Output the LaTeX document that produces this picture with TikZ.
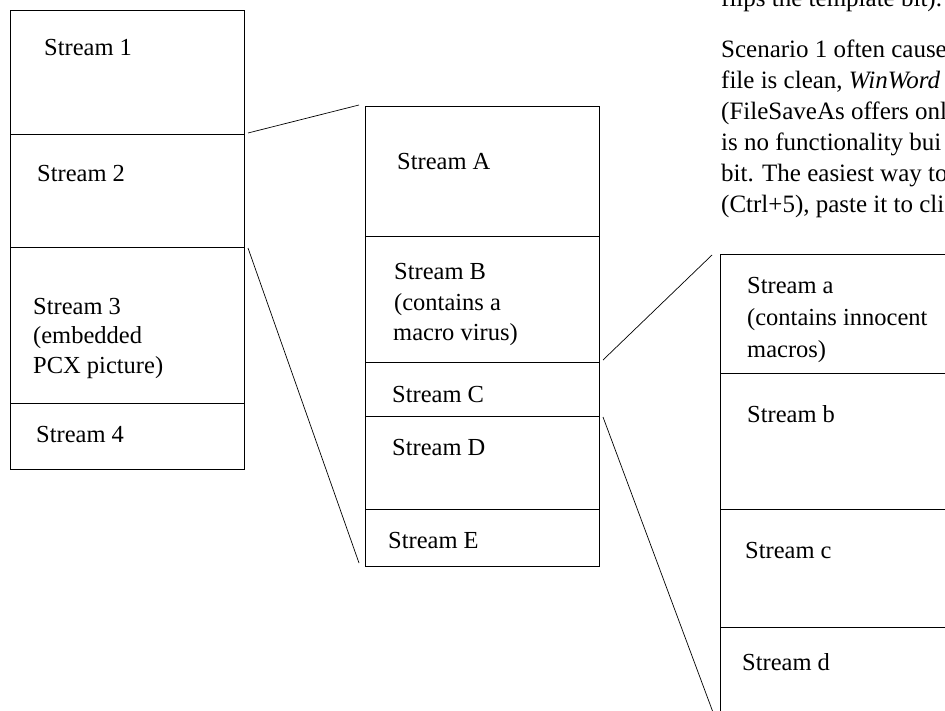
\documentclass[tikz,border=0pt]{standalone}
\usepackage{fontspec}
\setmainfont{Liberation Serif}
\begin{document}
\begin{tikzpicture}[x=1pt,y=-1pt,
  cell/.style={draw=black,line width=1pt,rectangle,inner sep=0pt,anchor=north west},
  lbl/.style={anchor=base west,inner sep=0pt,font=\fontsize{24.5}{31}\selectfont},
  para/.style={anchor=base west,inner sep=0pt,font=\fontsize{25}{31}\selectfont},
  link/.style={draw=black,line width=0.7pt}]
\useasboundingbox (0,0) rectangle (945,711);
\clip (0,0) rectangle (945,711);
% left box
\node[cell,minimum width=234pt,minimum height=124pt] (c1) at (10,10) {};
\node[cell,minimum width=234pt,minimum height=113pt] (c2) at (10,134) {};
\node[cell,minimum width=234pt,minimum height=156pt] (c3) at (10,247) {};
\node[cell,minimum width=234pt,minimum height=66pt] (c4) at (10,403) {};
% middle box
\node[cell,minimum width=234pt,minimum height=130pt] (m1) at (365,106) {};
\node[cell,minimum width=234pt,minimum height=126pt] (m2) at (365,236) {};
\node[cell,minimum width=234pt,minimum height=54pt] (m3) at (365,362) {};
\node[cell,minimum width=234pt,minimum height=93pt] (m4) at (365,416) {};
\node[cell,minimum width=234pt,minimum height=57pt] (m5) at (365,509) {};
% right box
\node[cell,minimum width=260pt,minimum height=119pt] (r1) at (720,254) {};
\node[cell,minimum width=260pt,minimum height=136pt] (r2) at (720,373) {};
\node[cell,minimum width=260pt,minimum height=118pt] (r3) at (720,509) {};
\node[cell,minimum width=260pt,minimum height=100pt] (r4) at (720,627) {};
% labels left
\node[lbl] (t1) at (44,56) {Stream 1};
\node[lbl] (t2) at (37,182) {Stream 2};
\node[lbl] (t3a) at (33,315) {Stream 3};
\node[lbl] (t3b) at (33,344) {(embedded};
\node[lbl] (t3c) at (33,373) {PCX picture)};
\node[lbl] (t4) at (36,442) {Stream 4};
% labels middle
\node[lbl] (tA) at (397,170) {Stream A};
\node[lbl] (tBa) at (394,280) {Stream B};
\node[lbl] (tBb) at (394,311) {(contains a};
\node[lbl] (tBc) at (393,341) {macro virus)};
\node[lbl] (tC) at (392,402) {Stream C};
\node[lbl] (tD) at (392,455) {Stream D};
\node[lbl] (tE) at (388,548) {Stream E};
% labels right
\node[lbl] (ta1) at (747,294) {Stream a};
\node[lbl] (ta2) at (747,326) {(contains innocent};
\node[lbl] (ta3) at (747,357) {macros)};
\node[lbl] (tb) at (747,422) {Stream b};
\node[lbl] (tc) at (745,558) {Stream c};
\node[lbl] (td) at (742,670) {Stream d};
% paragraph text (top right)
\node[para] (p0) at (721,7) {flips the template bit).};
\node[para] (p1) at (721,58) {Scenario 1 often cause};
\node[para] (p2) at (721,89) {file is clean, \textit{WinWord}};
\node[para] (p3) at (721,120) {(FileSaveAs offers onl};
\node[para] (p4) at (721,151) {is no functionality bui};
\node[para] (p5) at (721,182) {bit. The easiest way to};
\node[para] (p6) at (721,213) {(Ctrl+5), paste it to cli};
% connectors
\coordinate (l1s) at (248,133);
\coordinate (l1e) at (359,105);
\coordinate (l2s) at (248,248);
\coordinate (l2e) at (359,563);
\coordinate (r1s) at (603,360);
\coordinate (r1e) at (712,255);
\coordinate (r2s) at (603,417);
\coordinate (r2e) at (714,715);
\draw[link] (l1s) -- (l1e);
\draw[link] (l2s) -- (l2e);
\draw[link] (r1s) -- (r1e);
\draw[link] (r2s) -- (r2e);
\end{tikzpicture}
\end{document}
